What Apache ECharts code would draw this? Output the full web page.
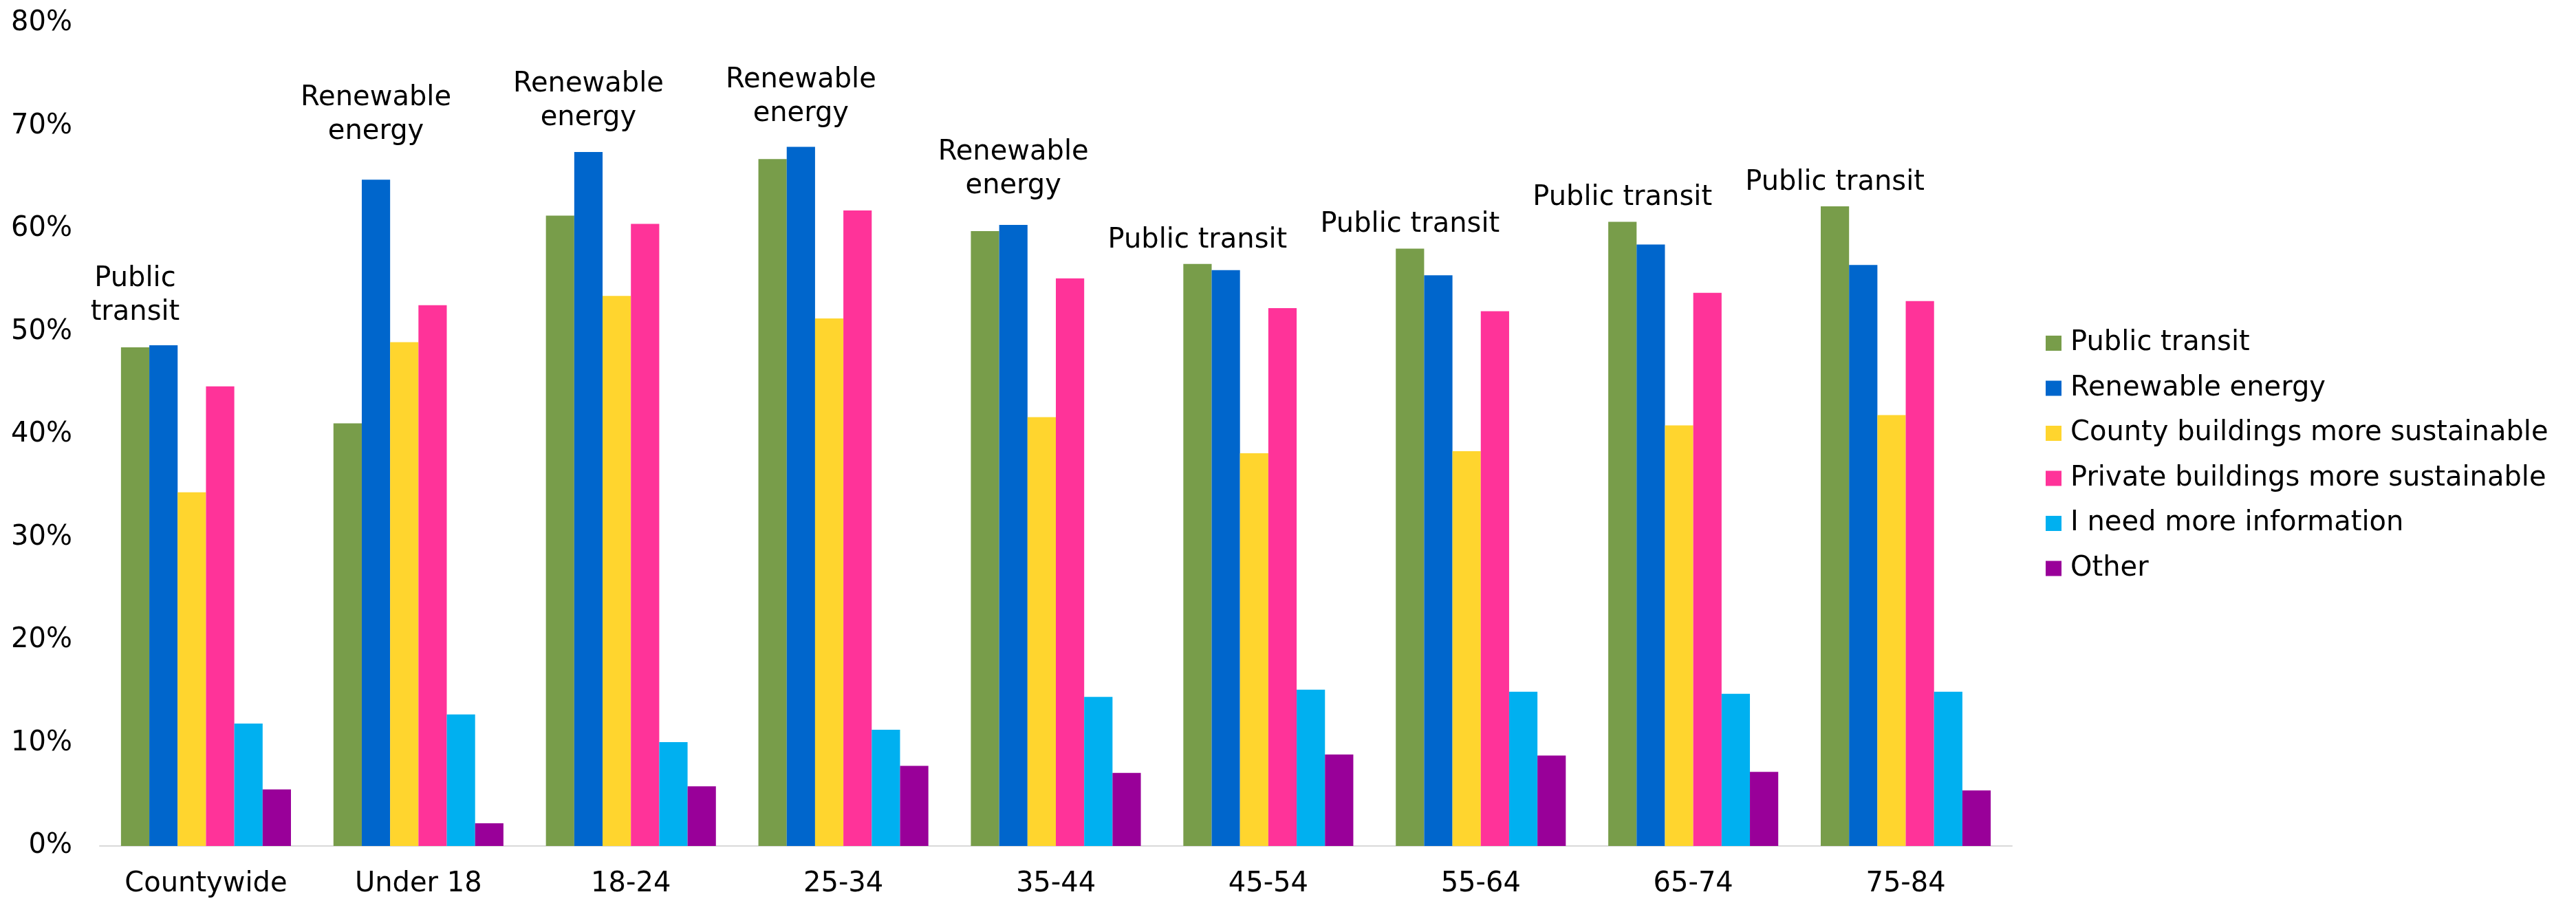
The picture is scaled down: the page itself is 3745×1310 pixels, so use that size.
<!DOCTYPE html>
<html>
<head>
<meta charset="utf-8">
<title>Top climate priorities by age group</title>
<script src="https://cdn.jsdelivr.net/npm/echarts@6/dist/echarts.min.js"></script>
<style>
  html, body { margin: 0; padding: 0; background: #ffffff; }
  #chart { width: 3745px; height: 1310px; }
</style>
</head>
<body>
<div id="chart"></div>
<script>
// Response groups along the x axis
const categories = ['Countywide', 'Under 18', '18-24', '25-34', '35-44', '45-54', '55-64', '65-74', '75-84'];

// Share of respondents choosing each priority (%)
const publicTransit     = [48.5, 41.1, 61.3, 66.8, 59.8, 56.6, 58.1, 60.7, 62.2];
const renewableEnergy   = [48.7, 64.8, 67.5, 68.0, 60.4, 56.0, 55.5, 58.5, 56.5];
const countyBuildings   = [34.4, 49.0, 53.5, 51.3, 41.7, 38.2, 38.4, 40.9, 41.9];
const privateBuildings  = [44.7, 52.6, 60.5, 61.8, 55.2, 52.3, 52.0, 53.8, 53.0];
const needMoreInfo      = [11.9, 12.8, 10.1, 11.3, 14.5, 15.2, 15.0, 14.8, 15.0];
const otherChoice       = [5.5, 2.2, 5.8, 7.8, 7.1, 8.9, 8.8, 7.2, 5.4];

const seriesNames = [
  'Public transit',
  'Renewable energy',
  'County buildings more sustainable',
  'Private buildings more sustainable',
  'I need more information',
  'Other'
];

// Y axis tick values (%)
const yTicks = [0, 10, 20, 30, 40, 50, 60, 70, 80];

// Callout above the top pick in each group: which series it sits on, and its text
const calloutSeries = [0, 1, 1, 1, 1, 0, 0, 0, 0];
const calloutText = [
  'Public\ntransit',
  'Renewable\nenergy',
  'Renewable\nenergy',
  'Renewable\nenergy',
  'Renewable\nenergy',
  'Public transit',
  'Public transit',
  'Public transit',
  'Public transit'
];

// --- styling ---
const palette = ['#789D4A', '#0066CC', '#FFD52E', '#FF3399', '#00B0F0', '#990099'];
const calloutGap = [26, 45, 25, 23, 32, 10, 10, 10, 10];
const FONT = '"DejaVu Sans", "Noto Sans", sans-serif';

const seriesValues = [publicTransit, renewableEnergy, countyBuildings, privateBuildings, needMoreInfo, otherChoice];

const series = seriesValues.map(function (values, s) {
  return {
    name: seriesNames[s],
    type: 'bar',
    barGap: '0%',
    barCategoryGap: '20%',
    itemStyle: { color: palette[s] },
    emphasis: { disabled: true },
    data: values.map(function (v, i) {
      const item = { value: v };
      if (calloutSeries[i] === s) {
        item.label = {
          show: true,
          position: 'top',
          distance: calloutGap[i],
          formatter: calloutText[i],
          fontFamily: FONT,
          fontSize: 40,
          lineHeight: 49,
          color: '#000000',
          align: 'center'
        };
      }
      return item;
    })
  };
});

const chart = echarts.init(document.getElementById('chart'), null, { renderer: 'canvas' });

chart.setOption({
  animation: false,
  backgroundColor: '#ffffff',
  color: palette,
  grid: { left: 145, right: 820, top: 34, bottom: 76, containLabel: false },
  legend: {
    orient: 'vertical',
    left: 2969,
    top: 470,
    itemWidth: 23,
    itemHeight: 22,
    itemGap: 17.5,
    icon: 'rect',
    selectedMode: false,
    data: seriesNames,
    textStyle: {
      fontFamily: FONT,
      fontSize: 40,
      lineHeight: 48,
      color: '#000000',
      padding: [0, 0, 0, 8]
    }
  },
  xAxis: {
    type: 'category',
    data: categories,
    axisLine: { show: true, lineStyle: { color: '#D9D9D9', width: 2 } },
    axisTick: { show: false },
    axisLabel: {
      margin: 32,
      fontFamily: FONT,
      fontSize: 40,
      lineHeight: 48,
      color: '#000000',
      interval: 0
    },
    splitLine: { show: false }
  },
  yAxis: {
    type: 'value',
    min: yTicks[0],
    max: yTicks[yTicks.length - 1],
    interval: yTicks[1] - yTicks[0],
    axisLine: { show: false },
    axisTick: { show: false },
    splitLine: { show: false },
    axisLabel: {
      margin: 40,
      fontFamily: FONT,
      fontSize: 40,
      color: '#000000',
      formatter: '{value}%'
    }
  },
  series: series
});
</script>
</body>
</html>
